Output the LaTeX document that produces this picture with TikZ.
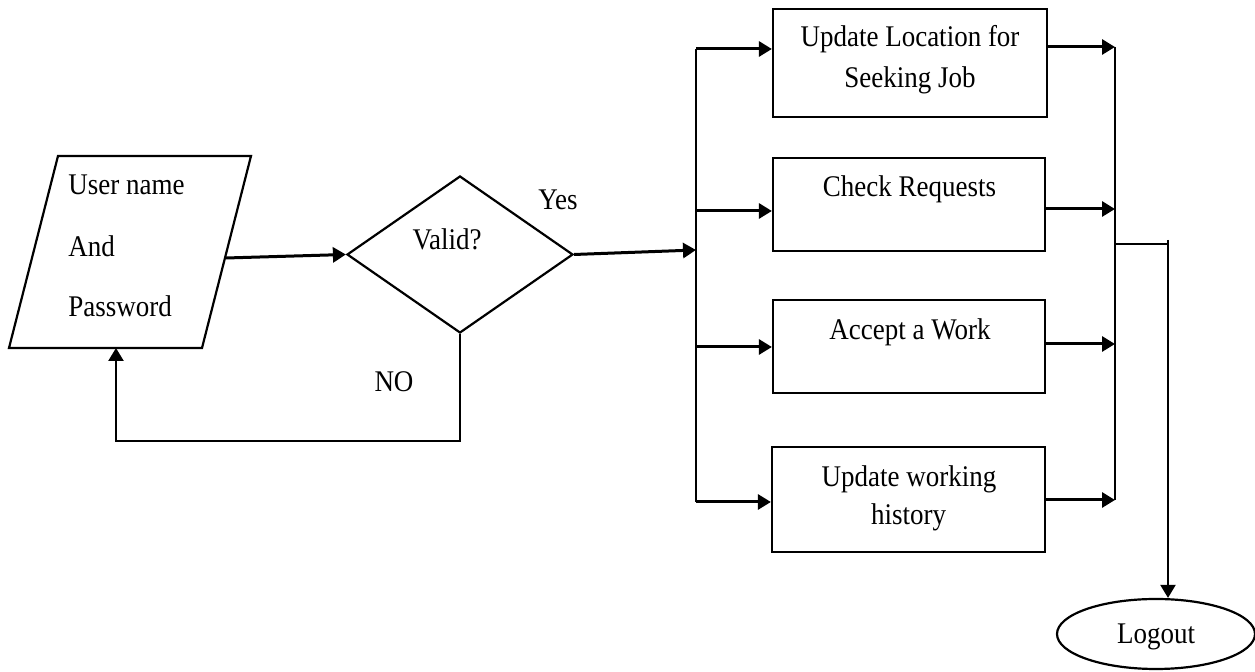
\documentclass[tikz,border=0pt]{standalone}
\usepackage{fontspec}
\setmainfont{Liberation Serif}[FakeStretch=0.9]
\usetikzlibrary{arrows.meta,shapes.geometric}
\begin{document}
\begin{tikzpicture}[x=0.5pt,y=-0.5pt,
  shapeline/.style={draw=black,line width=1.1pt},
  stepbox/.style={shapeline,rectangle,inner sep=0pt},
  txt/.style={font=\fontsize{15pt}{18pt}\selectfont,inner sep=0pt,anchor=base},
  arr/.style={line width=1.5pt,-{Triangle[length=6.5pt,width=7.5pt]}},
  wire/.style={line width=1.1pt}]
\useasboundingbox (0,0) rectangle (1255,672);

% input parallelogram
\draw[shapeline] (58,156) -- (251,156) -- (202,348) -- (9,348) -- cycle;
\coordinate (inR) at (226,258);
\coordinate (inB) at (116,348);
\node[txt,anchor=base west] (tu) at (68,195) {User name};
\node[txt,anchor=base west] (ta) at (68,257) {And};
\node[txt,anchor=base west] (tp) at (68,317) {Password};

% decision
\node[shapeline,diamond,minimum width=113pt,minimum height=78.5pt,inner sep=0pt] (dia) at (460,254.5) {};
\node[txt] (tv) at (447,250) {Valid?};
\node[txt] (ty) at (558,210) {Yes};
\node[txt] (tn) at (394,392) {NO};

% process boxes
\node[stepbox,minimum width=137pt,minimum height=54pt] (b1) at (910,63) {};
\node[stepbox,minimum width=136pt,minimum height=46.5pt] (b2) at (909,204.5) {};
\node[stepbox,minimum width=136pt,minimum height=46.5pt] (b3) at (909,346.5) {};
\node[stepbox,minimum width=136.5pt,minimum height=52.5pt] (b4) at (908.5,499.5) {};
\node[txt] (t1a) at (910,47) {Update Location for};
\node[txt] (t1b) at (910,88) {Seeking Job};
\node[txt] (t2) at (909.5,197) {Check Requests};
\node[txt] (t3) at (910,340) {Accept a Work};
\node[txt] (t4a) at (909,487) {Update working};
\node[txt] (t4b) at (908.5,525) {history};

% terminator
\node[shapeline,ellipse,minimum width=99pt,minimum height=35pt,inner sep=0pt] (lo) at (1156,634) {};
\node[txt] (tl) at (1156,644) {Logout};

% branch points
\coordinate (ls) at (696,250);
\coordinate (l1) at (696,49);
\coordinate (l2) at (696,211);
\coordinate (l3) at (696,347);
\coordinate (l4) at (696,502);
\coordinate (r1) at (1115,47);
\coordinate (r2) at (1115,209);
\coordinate (r3) at (1115,344);
\coordinate (r4) at (1115,500);
\coordinate (rj) at (1115,244);
\coordinate (rk) at (1168,244);
\coordinate (fb) at (116,441);

% connectors
\draw[arr] (inR) -- (dia.west);
\draw[arr] (dia.east) -- (ls);
\draw[wire] (l1) -- (l4);
\draw[arr] (l1) -- (l1 -| b1.west);
\draw[arr] (l2) -- (l2 -| b2.west);
\draw[arr] (l3) -- (l3 -| b3.west);
\draw[arr] (l4) -- (l4 -| b4.west);
\draw[arr] (r1 -| b1.east) -- (r1);
\draw[arr] (r2 -| b2.east) -- (r2);
\draw[arr] (r3 -| b3.east) -- (r3);
\draw[arr] (r4 -| b4.east) -- (r4);
\draw[wire] (r1) -- (r4);
\draw[wire] (rj) -- (rk);
\draw[arr,line width=1.1pt] ([yshift=2pt]rk) -- (lo.north -| rk);
\draw[arr,line width=1.2pt] (dia.south) -- (dia.south |- fb) -- (fb) -- (inB);
\end{tikzpicture}
\end{document}
